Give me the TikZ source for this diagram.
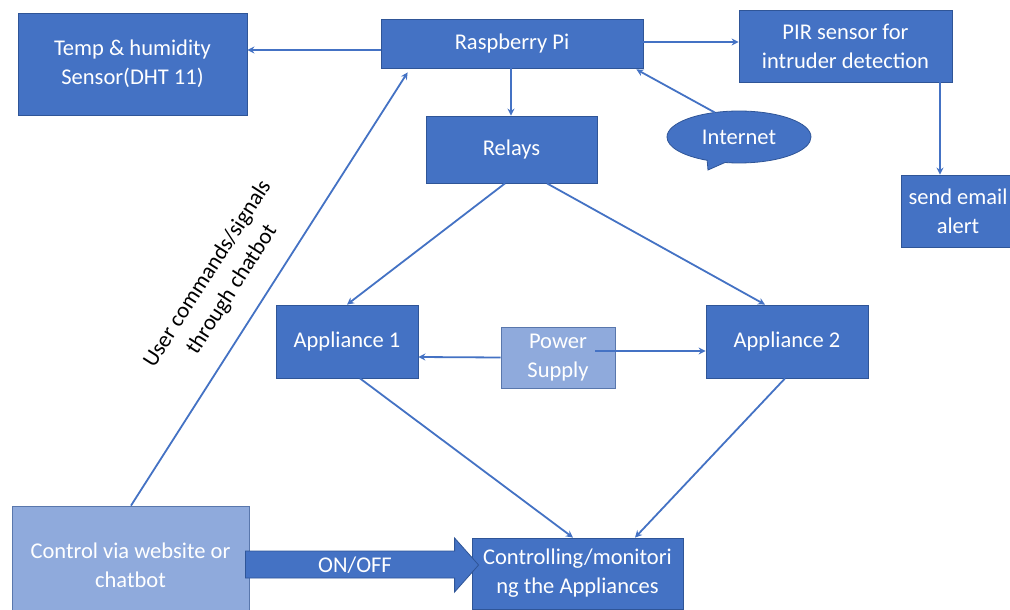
\documentclass[tikz,border=0pt]{standalone}
\usepackage{fontspec}
\setmainfont{Carlito}
\usetikzlibrary{shapes.callouts,calc,arrows.meta}
\definecolor{boxblue}{HTML}{4472C4}
\definecolor{lightblue}{HTML}{8FAADC}
\definecolor{edgeblue}{HTML}{2F5597}
\begin{document}
\begin{tikzpicture}[x=1pt,y=-1pt,
  every node/.style={font=\fontsize{22.5}{29}\selectfont, text=white, align=center, inner sep=0pt},
  darkbox/.style={draw=edgeblue, line width=0.8pt, fill=boxblue},
  lightbox/.style={draw=edgeblue!80, line width=0.8pt, fill=lightblue},
  conn/.style={draw=boxblue, line width=1.8pt, -{Stealth[length=7pt,width=7pt]}},
]
\useasboundingbox (0,0) rectangle (1010,610);
\fill[white] (0,0) rectangle (1010,610);

% boxes
\node[darkbox, minimum width=229pt, minimum height=102pt] (temp) at (132.5,64) {Temp \& humidity\\Sensor(DHT 11)};
\node[darkbox, minimum width=262pt, minimum height=49pt] (rpi) at (512,43.5) {Raspberry Pi};
\node[darkbox, minimum width=213pt, minimum height=72pt] (pir) at (845.5,46) {PIR sensor for\\intruder detection};
\node[darkbox, minimum width=171pt, minimum height=67pt] (relays) at (511.5,149.5) {Relays};
\node[darkbox, shape=ellipse callout, minimum width=144pt, minimum height=52pt,
      callout absolute pointer={(708,170)}] (internet) at (739,137) {Internet};
\node[darkbox, minimum width=114pt, minimum height=72pt] (email) at (958,211) {send email\\alert};
\node[darkbox, minimum width=142pt, minimum height=73pt] (app1) at (347,341.5) {Appliance 1};
\node[lightbox, minimum width=114pt, minimum height=61pt] (power) at (558,357.5) {Power\\Supply};
\node[darkbox, minimum width=162pt, minimum height=73pt] (app2) at (787,341.5) {Appliance 2};
\node[lightbox, minimum width=237pt, minimum height=118pt] (control) at (130.5,565) {Control via website or\\chatbot};
\node[darkbox, minimum width=211pt, minimum height=71pt] (ctrl) at (577.5,573.5) {Controlling/monitori\\ng the Appliances};

% connectors
\draw[conn] ($(rpi.west)+(0,6.5)$) -- ($(temp.east)+(0,-14)$);
\draw[conn] ($(rpi.east)+(0,-1.5)$) -- ($(pir.west)+(0,-4)$);
\draw[conn] ($(rpi.south)+(-1,0)$) -- ($(relays.north)+(-0.5,0)$);
\draw[conn] ($(internet.north)+(-24,2)$) -- ($(rpi.south east)+(-7,1)$);
\draw[conn] ($(pir.south)+(94.5,0)$) -- ($(email.north)+(-18,0)$);
\draw[conn] ($(relays.south)+(-6.5,0)$) -- (app1.north);
\draw[conn] ($(relays.south)+(35.5,0)$) -- ($(app2.north)+(-22,0)$);
\draw[conn] (power.west) -- ($(app1.east)+(0,15.5)$);
\draw[conn] ($(power.center)+(37,-6.5)$) -- ($(app2.west)+(0,9.5)$);
\draw[conn] ($(app1.south)+(13,0)$) -- ($(ctrl.north)+(-4.5,0)$);
\draw[conn] ($(app2.south)+(-2,0)$) -- ($(ctrl.north)+(57.5,0)$);
\draw[conn] ($(control.north)+(0.5,0)$) -- ($(rpi.south west)+(27,4)$);
\node[text=black, rotate=57.3] (lbl) at (220,282) {User commands/signals\\through chatbot};

% ON/OFF block arrow
\coordinate (a) at ($(control.east)+(-4,0)$);
\coordinate (t) at ($(ctrl.west)+(7,-8.5)$);
\filldraw[fill=boxblue, draw=edgeblue, line width=0.8pt]
  ($(a)+(0,-14)$) -- ($(t)+(-24,-14)$) -- ($(t)+(-24,-27)$) -- (t)
  -- ($(t)+(-24,27)$) -- ($(t)+(-24,13)$) -- ($(a)+(0,13)$) -- cycle;
\node (onoff) at (355,565) {ON/OFF};
\end{tikzpicture}
\end{document}
